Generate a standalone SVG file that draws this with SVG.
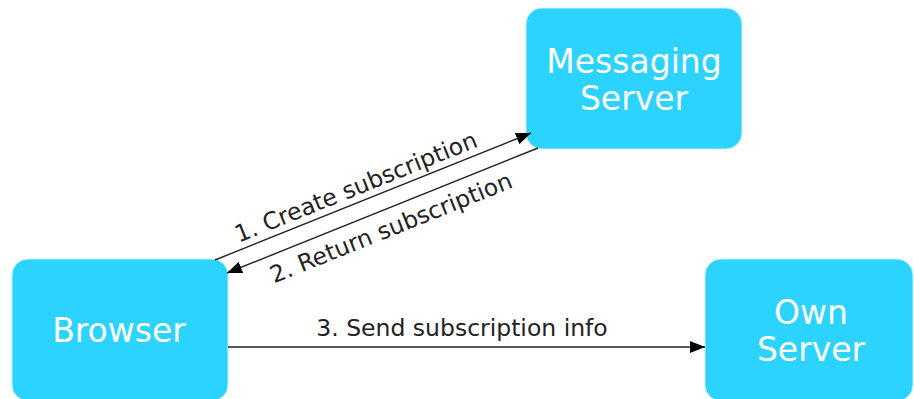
<svg xmlns="http://www.w3.org/2000/svg" width="914" height="399" viewBox="0 0 914 399">
<defs>
<style>
.node rect{fill:#2dd3ff;stroke:#c8eef8;stroke-width:1}
.node text{fill:#ffffff;font-family:"DejaVu Sans",sans-serif;font-size:33px;text-anchor:middle}
.edge line{stroke:#222;stroke-width:1.4}
.lbl{fill:#222;font-family:"DejaVu Sans",sans-serif;font-size:23.5px;text-anchor:middle}
</style>
<marker id="ah" markerWidth="16" markerHeight="12" refX="15" refY="6" orient="auto" markerUnits="userSpaceOnUse">
<path d="M0,0 L15,6 L0,12 Z" fill="#000"/>
</marker>
</defs>
<rect width="914" height="399" fill="#fff"/>
<g id="messaging-server" class="node">
<rect x="526" y="8" width="216" height="141" rx="16"/>
<text x="634" y="73">Messaging</text>
<text x="634" y="110">Server</text>
</g>
<g id="browser" class="node">
<rect x="12" y="259" width="216" height="142" rx="16"/>
<text x="119" y="342">Browser</text>
</g>
<g id="own-server" class="node">
<rect x="705" y="259" width="208" height="142" rx="16"/>
<text x="811" y="324">Own</text>
<text x="811" y="361">Server</text>
</g>
<g id="connectors" class="edge">
<line x1="215" y1="260" x2="531" y2="133" marker-end="url(#ah)"/>
<line x1="538" y1="148" x2="227" y2="273" marker-end="url(#ah)"/>
<line x1="228" y1="347" x2="705" y2="347" marker-end="url(#ah)"/>
<text class="lbl" transform="translate(361.5,201) rotate(-21.9)" y="-7">1. Create subscription</text>
<text class="lbl" transform="translate(385,213) rotate(-21.9)" y="24">2. Return subscription</text>
<text class="lbl" x="462" y="336">3. Send subscription info</text>
</g>
</svg>
